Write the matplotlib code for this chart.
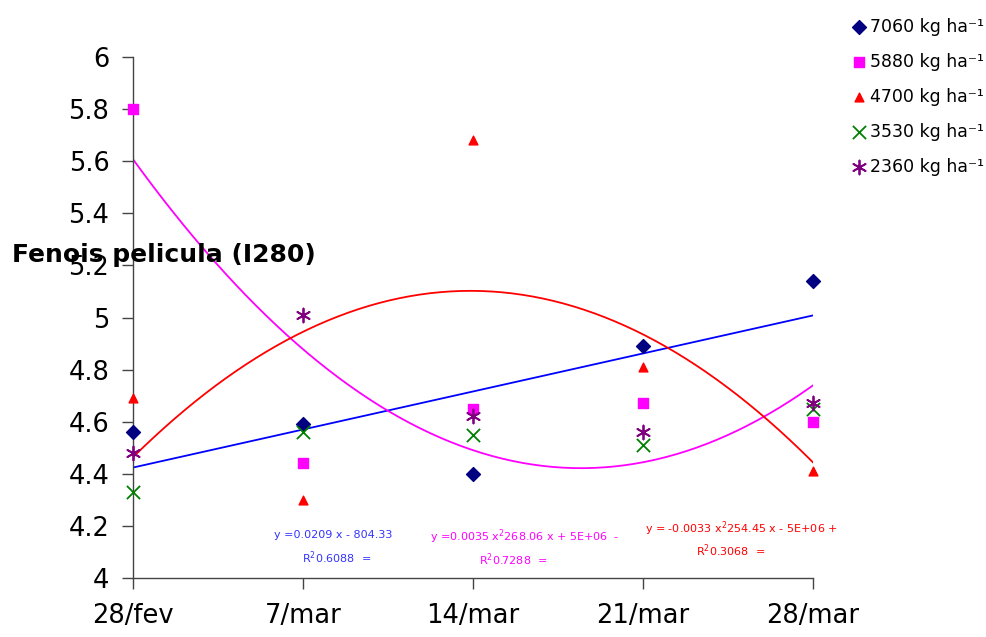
import matplotlib
matplotlib.use("Agg")
import matplotlib.pyplot as plt
import numpy as np

plt.rcParams['font.family'] = ['DejaVu Sans']

dates = ['28/fev', '7/mar', '14/mar', '21/mar', '28/mar']
s7060 = [4.56, 4.59, 4.40, 4.89, 5.14]
s5880 = [5.80, 4.44, 4.65, 4.67, 4.60]
s4700 = [4.69, 4.30, 5.68, 4.81, 4.41]
s3530 = [4.33, 4.56, 4.55, 4.51, 4.65]
s2360 = [4.48, 5.01, 4.62, 4.56, 4.67]
labels = ['7060 kg ha\u207b\u00b9', '5880 kg ha\u207b\u00b9', '4700 kg ha\u207b\u00b9',
          '3530 kg ha\u207b\u00b9', '2360 kg ha\u207b\u00b9']
eq_blue = ['y =0.0209 x - 804.33', 'R$^2$0.6088  =']
eq_mag = ['y =0.0035 x$^2$268.06 x + 5E+06  -', 'R$^2$0.7288  =']
eq_red = ['y = -0.0033 x$^2$254.45 x - 5E+06 +', 'R$^2$0.3068  =']

x = np.arange(len(dates))

fig = plt.figure(figsize=(9.86, 6.37), dpi=100)
ax = fig.add_axes([133/986, 1-578/637, (813-133)/986, (578-57)/637])

# trend lines
xf = np.linspace(0, 4, 200)
p1 = np.polyfit(x, s7060, 1)
p2 = np.polyfit(x, s5880, 2)
p3 = np.polyfit(x, s4700, 2)
ax.plot(xf, np.polyval(p1, xf), color='#0000ff', lw=1.3, zorder=2)
ax.plot(xf, np.polyval(p2, xf), color='#ff00ff', lw=1.3, zorder=2)
ax.plot(xf, np.polyval(p3, xf), color='#ff0000', lw=1.3, zorder=2)

h = []
h.append(ax.scatter(x, s7060, marker='D', s=50, color='#000080', zorder=3, clip_on=False))
h.append(ax.scatter(x, s5880, marker='s', s=60, color='#ff00ff', zorder=3, clip_on=False))
h.append(ax.scatter(x, s4700, marker='^', s=40, color='#ff0000', zorder=3, clip_on=False))
h.append(ax.scatter(x, s3530, marker='x', s=90, color='#008000', lw=1.3, zorder=3, clip_on=False))
h.append(ax.scatter(x, s2360, marker=(6, 2, 0), s=100, color='#800080', lw=1.3, zorder=3, clip_on=False))

ax.set_xlim(0, 4)
ax.set_ylim(4, 6)
ax.set_xticks(x)
ax.set_xticklabels(dates)
ax.set_yticks(np.arange(4, 6.01, 0.2))
ax.set_yticklabels(['4', '4.2', '4.4', '4.6', '4.8', '5', '5.2', '5.4', '5.6', '5.8', '6'])
for s in ['top', 'right']:
    ax.spines[s].set_visible(False)
for s in ['left', 'bottom']:
    ax.spines[s].set_color('#444444')
    ax.spines[s].set_linewidth(1.0)
ax.tick_params(axis='both', direction='out', length=8, width=1.0, color='#444444',
               labelsize=18.5)
ax.tick_params(axis='y', pad=9)
ax.tick_params(axis='x', pad=10)

fig.text(12/986, 1-255/637, 'Fenois pelicula (I280)', fontsize=18, fontweight='bold',
         ha='left', va='center')

fs = 8
fig.text(333/986, 1-535/637, eq_blue[0], color='#3333ff', fontsize=fs, ha='center', va='center')
fig.text(337/986, 1-558/637, eq_blue[1], color='#3333ff', fontsize=fs, ha='center', va='center')
fig.text(525/986, 1-537/637, eq_mag[0], color='#ff00ff', fontsize=fs, ha='center', va='center')
fig.text(513/986, 1-560/637, eq_mag[1], color='#ff00ff', fontsize=fs, ha='center', va='center')
fig.text(741/986, 1-529/637, eq_red[0], color='#ff0000', fontsize=fs, ha='center', va='center')
fig.text(731/986, 1-551/637, eq_red[1], color='#ff0000', fontsize=fs, ha='center', va='center')

fig.legend(h, labels, loc='upper left', bbox_to_anchor=(844/986, 1-9/637),
           frameon=False, fontsize=12.5, handlelength=0.7, handletextpad=0.3,
           labelspacing=0.98, borderpad=0, scatterpoints=1)

fig.savefig('out.png', dpi=100)
